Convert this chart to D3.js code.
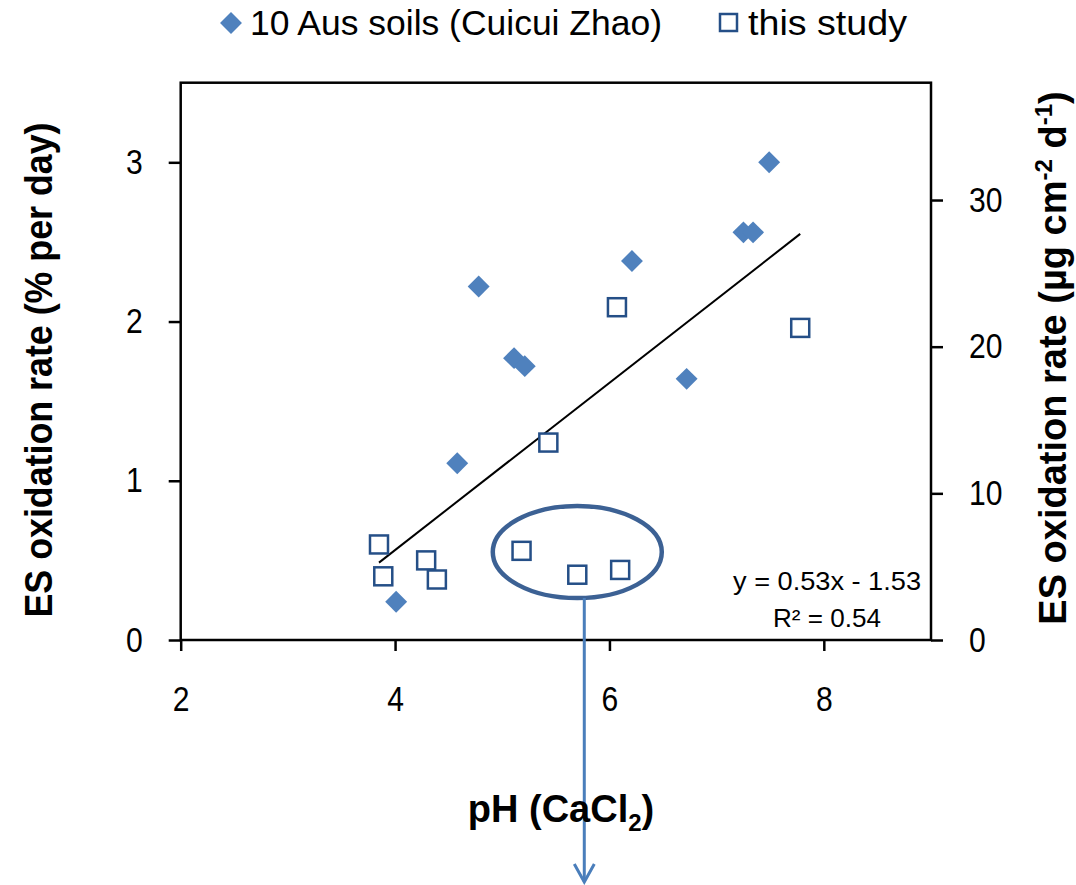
<!DOCTYPE html>
<html>
<head>
<meta charset="utf-8">
<script src="https://cdn.jsdelivr.net/npm/d3@7"></script>
<style>
  html, body { margin: 0; padding: 0; background: #fff; }
  svg { display: block; font-family: "Liberation Sans", Arial, sans-serif; }
</style>
</head>
<body>
<svg id="chart" width="1076" height="885"></svg>
<script>
// 10 Aus soils (Cuicui Zhao)
const zhaoPH   = [4.01, 4.58, 4.78, 5.11, 5.21, 6.21, 6.72, 7.25, 7.34, 7.49];
const zhaoRate = [0.24, 1.11, 2.22, 1.77, 1.72, 2.38, 1.64, 2.56, 2.56, 3.00];
// this study
const studyPH   = [3.85, 3.89, 4.29, 4.39, 5.18, 5.43, 5.70, 6.10, 6.07, 7.78];
const studyRate = [0.60, 0.40, 0.50, 0.38, 0.56, 1.24, 0.41, 0.44, 2.09, 1.96];

const xTicks = [2, 4, 6, 8];
const yTicks = [0, 1, 2, 3];
const y2Ticks = [0, 10, 20, 30];

const trendLabel = ["y = 0.53x - 1.53", "R² = 0.54"];
const legendLabels = ["10 Aus soils (Cuicui Zhao)", "this study"];

// highlighted group (ellipse centre, in data units)
const circled = { ph: 5.70, rate: 0.552 };

const svg = d3.select("#chart");
const plotLeft = 180.7, plotRight = 931, plotTop = 82.7, plotBottom = 640;

const x = d3.scaleLinear().domain([2, 9]).range([plotLeft, plotRight]);
const y = d3.scaleLinear().domain([0, 3.5]).range([plotBottom, plotTop]);
const y2 = d3.scaleLinear().domain([0, 38]).range([plotBottom, plotTop]);

function styleAxis(g) {
  g.select(".domain").remove();
  g.selectAll(".tick line").attr("stroke", "#000").attr("stroke-width", 2.5);
  g.selectAll(".tick text").attr("font-size", 35).attr("fill", "#000")
    .attr("font-family", "'Liberation Sans', Arial, sans-serif")
    .attr("textLength", function () { return this.getComputedTextLength() * 0.86; })
    .attr("lengthAdjust", "spacingAndGlyphs");
}

const fmt = d3.format("d");
svg.append("g").attr("transform", `translate(0,${plotBottom})`)
  .call(d3.axisBottom(x).tickValues(xTicks).tickFormat(fmt).tickSize(11).tickPadding(35).tickSizeOuter(0))
  .call(styleAxis);
svg.append("g").attr("transform", `translate(${plotLeft},0)`)
  .call(d3.axisLeft(y).tickValues(yTicks).tickFormat(fmt).tickSize(12).tickPadding(26).tickSizeOuter(0))
  .call(styleAxis);
svg.append("g").attr("transform", `translate(${plotRight},0)`)
  .call(d3.axisRight(y2).tickValues(y2Ticks).tickFormat(fmt).tickSize(12).tickPadding(26).tickSizeOuter(0))
  .call(styleAxis);

// plot frame
svg.append("rect")
  .attr("x", plotLeft).attr("y", plotTop)
  .attr("width", plotRight - plotLeft).attr("height", plotBottom - plotTop)
  .attr("fill", "none").attr("stroke", "#000").attr("stroke-width", 2.5);

// least squares trend over both series
const allPH = zhaoPH.concat(studyPH);
const allRate = zhaoRate.concat(studyRate);
const mx = d3.mean(allPH), my = d3.mean(allRate);
const slope = d3.sum(allPH, (v, i) => (v - mx) * (allRate[i] - my)) / d3.sum(allPH, v => (v - mx) ** 2);
const intercept = my - slope * mx;
const xMin = d3.min(allPH), xMax = d3.max(allPH);
svg.append("line")
  .attr("x1", x(xMin)).attr("y1", y(slope * xMin + intercept))
  .attr("x2", x(xMax)).attr("y2", y(slope * xMax + intercept))
  .attr("stroke", "#000").attr("stroke-width", 2);

const diamond = d3.symbol().type(d3.symbolSquare).size(240);

svg.append("g").selectAll("path").data(zhaoPH).join("path")
  .attr("d", diamond)
  .attr("transform", (d, i) => `translate(${x(d)},${y(zhaoRate[i])}) rotate(45)`)
  .attr("fill", "#4f81bd");

svg.append("g").selectAll("rect").data(studyPH).join("rect")
  .attr("x", d => x(d) - 9).attr("y", (d, i) => y(studyRate[i]) - 9)
  .attr("width", 18).attr("height", 18)
  .attr("fill", "#fff").attr("stroke", "#254f87").attr("stroke-width", 2.5);

// squeeze a text to a given width (Calibri-like proportions)
function squeeze(t, width) {
  t.attr("textLength", width).attr("lengthAdjust", "spacingAndGlyphs");
}

// equation
const eq = svg.append("g").attr("font-size", 25).attr("fill", "#000");
squeeze(eq.append("text").attr("x", 733).attr("y", 590).text(trendLabel[0]), 188);
squeeze(eq.append("text").attr("x", 773).attr("y", 627).text(trendLabel[1]), 108);

// ellipse + arrow annotation
const cx = x(circled.ph), cy = y(circled.rate);
svg.append("ellipse")
  .attr("cx", cx).attr("cy", cy).attr("rx", 84.5).attr("ry", 46)
  .attr("fill", "none").attr("stroke", "#3c6194").attr("stroke-width", 4.5);

const ax = cx + 7;
svg.append("line")
  .attr("x1", ax).attr("y1", cy + 46).attr("x2", ax).attr("y2", 882)
  .attr("stroke", "#4a7ebb").attr("stroke-width", 3);
svg.append("path")
  .attr("d", `M${ax - 10},864 L${ax},882 L${ax + 10},864`)
  .attr("fill", "none").attr("stroke", "#4a7ebb").attr("stroke-width", 3);

// legend
svg.append("path").attr("d", diamond)
  .attr("transform", "translate(231,23) rotate(45)").attr("fill", "#4f81bd");
squeeze(svg.append("text").attr("x", 250).attr("y", 35).attr("font-size", 35).text(legendLabels[0]), 412);
svg.append("rect").attr("x", 720).attr("y", 14).attr("width", 17).attr("height", 17)
  .attr("fill", "#fff").attr("stroke", "#254f87").attr("stroke-width", 2.5);
squeeze(svg.append("text").attr("x", 748).attr("y", 35).attr("font-size", 35).text(legendLabels[1]), 159);

// axis titles
const yTitle = svg.append("text")
  .attr("transform", "translate(52,370) rotate(-90)")
  .attr("text-anchor", "middle").attr("font-weight", "bold").attr("font-size", 38)
  .text("ES oxidation rate (% per day)");
squeeze(yTitle, 495);

const y2Title = svg.append("text")
  .attr("transform", "translate(1066,358) rotate(-90)")
  .attr("text-anchor", "middle").attr("font-weight", "bold").attr("font-size", 38);
y2Title.append("tspan").text("ES oxidation rate (µg cm");
y2Title.append("tspan").attr("font-size", 24).attr("dy", -14).text("-2");
y2Title.append("tspan").attr("dy", 14).text(" d");
y2Title.append("tspan").attr("font-size", 24).attr("dy", -14).text("-1");
y2Title.append("tspan").attr("dy", 14).text(")");

const xTitle = svg.append("text")
  .attr("x", 561).attr("y", 822)
  .attr("text-anchor", "middle").attr("font-weight", "bold").attr("font-size", 38);
xTitle.append("tspan").text("pH (CaCl");
xTitle.append("tspan").attr("font-size", 24).attr("dy", 9).text("2");
xTitle.append("tspan").attr("dy", -9).text(")");
</script>
</body>
</html>
